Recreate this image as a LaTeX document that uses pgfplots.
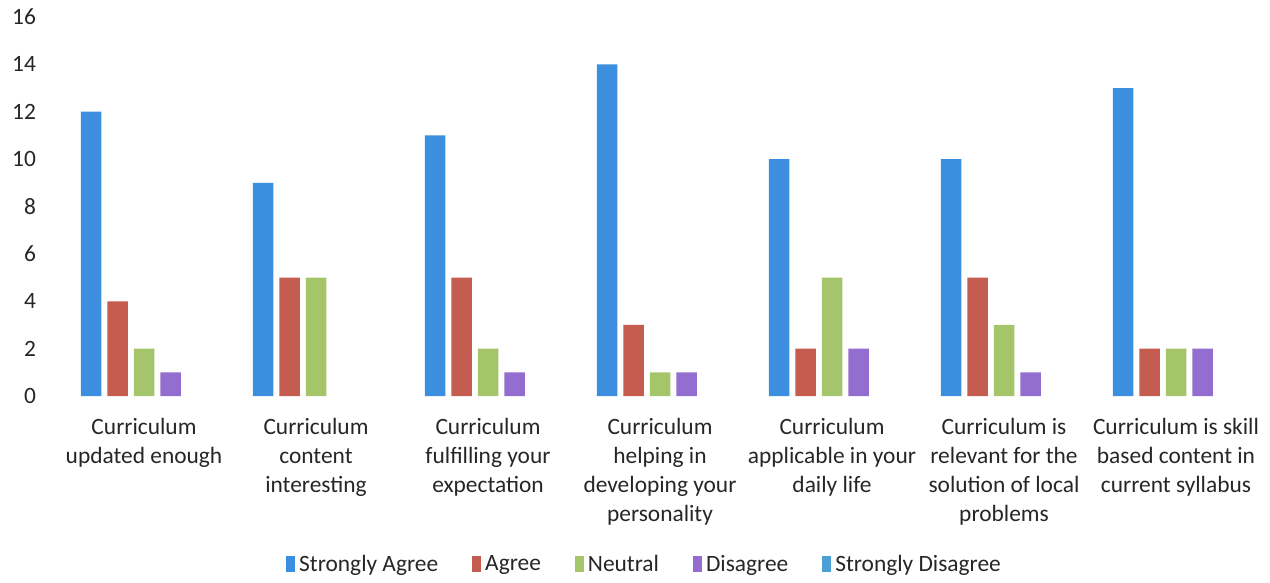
\documentclass[border=0pt]{standalone}
\usepackage{fontspec}
\setmainfont{Carlito}
\usepackage{pgfplots}
\pgfplotsset{compat=1.18}
\definecolor{cSA}{RGB}{60,142,222}
\definecolor{cA}{RGB}{196,92,79}
\definecolor{cN}{RGB}{164,197,106}
\definecolor{cD}{RGB}{147,110,208}
\definecolor{cSD}{RGB}{75,160,214}
\begin{document}
\begin{tikzpicture}
\begin{axis}[
  scale only axis,
  width=602pt, height=189.5pt,
  ybar=3pt, bar width=10.25pt,
  xmin=-0.5, xmax=6.5,
  ymin=0, ymax=16,
  ytick={0,2,...,16},
  xtick={0,...,6},
  xticklabels={
    {Curriculum\\updated enough},
    {Curriculum\\content\\interesting},
    {Curriculum\\fulfilling your\\expectation},
    {Curriculum\\helping in\\developing your\\personality},
    {Curriculum\\applicable in your\\daily life},
    {Curriculum is\\relevant for the\\solution of local\\problems},
    {Curriculum is skill\\based content in\\current syllabus}},
  axis line style={draw=none},
  major tick length=0pt,
  tick style={draw=none},
  /pgf/number format/assume math mode=true,
  yticklabel style={font=\fontsize{11.7}{14}\selectfont, color=black!85, xshift=-7.5pt},
  xticklabel style={font=\fontsize{11.7}{14.5}\selectfont, color=black!85, align=center, yshift=-7.5pt},
  legend columns=5,
  legend style={draw=none, fill=none, at={(0.488,-0.445)}, anchor=center,
    font=\fontsize{11.7}{14}\selectfont, text=black!85,
    nodes={inner sep=2pt},
    /tikz/every even column/.append style={column sep=15pt}},
  legend image code/.code={\fill[#1] (0pt,-3.5pt) rectangle (4.5pt,4.5pt);},
]
\addplot[fill=cSA, draw=none] coordinates {(0,12) (1,9) (2,11) (3,14) (4,10) (5,10) (6,13)};
\addplot[fill=cA, draw=none] coordinates {(0,4) (1,5) (2,5) (3,3) (4,2) (5,5) (6,2)};
\addplot[fill=cN, draw=none] coordinates {(0,2) (1,5) (2,2) (3,1) (4,5) (5,3) (6,2)};
\addplot[fill=cD, draw=none] coordinates {(0,1) (2,1) (3,1) (4,2) (5,1) (6,2)};
\addplot[fill=cSD, draw=none, fill opacity=0,
  legend image code/.code={\fill[cSD, fill opacity=1] (0pt,-3.5pt) rectangle (4.5pt,4.5pt);}]
  coordinates {(0,0) (1,0) (2,0) (3,0) (4,0) (5,0) (6,0)};
\legend{Strongly Agree, Agree, Neutral, Disagree, Strongly Disagree}
\end{axis}
\path ([xshift=-29pt,yshift=-91.25pt]current axis.south west) rectangle ([xshift=4pt,yshift=8.5pt]current axis.north east);
\end{tikzpicture}
\end{document}
